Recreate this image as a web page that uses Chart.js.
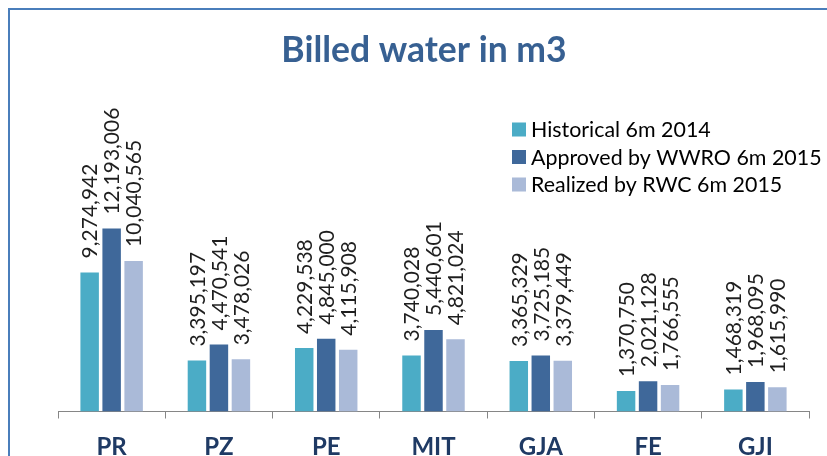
<!DOCTYPE html>
<html>
<head>
<meta charset="utf-8">
<script src="https://cdn.jsdelivr.net/npm/chart.js@4.4.1/dist/chart.umd.min.js"></script>
<style>
    html, body { margin: 0; padding: 0; background: #fff; overflow: hidden; }
    #wrap { position: relative; width: 827px; height: 456px; }
    #frame { position: absolute; left: 8px; top: 8px; width: 900px; height: 500px; border: 2px solid #4a7ebb; box-sizing: border-box; }
    canvas { position: absolute; left: 0; top: 0; }
</style>
</head>
<body>
<div id="wrap">
    <div id="frame"></div>
    <canvas id="billed-water-chart" width="827" height="456"></canvas>
</div>
<script>
// Данные графика
const chartTitle = 'Billed water in m3';
const categories = ['PR', 'PZ', 'PE', 'MIT', 'GJA', 'FE', 'GJI'];
const seriesNames = ['Historical 6m 2014', 'Approved by WWRO 6m 2015', 'Realized by RWC 6m 2015'];
const historical2014 = [9274942, 3395197, 4229538, 3740028, 3365329, 1370750, 1468319];
const approved2015 = [12193006, 4470541, 4845000, 5440601, 3725185, 2021128, 1968095];
const realized2015 = [10040565, 3478026, 4115908, 4821024, 3379449, 1766555, 1615990];

// Цвета серий
const seriesColors = ['#4bacc6', '#3f689a', '#aabad8'];

/**
 * Заголовок, легенда и подписи значений над столбцами
 */
const decorPlugin = {
    id: 'decor',
    afterDatasetsDraw(chart) {
        const ctx = chart.ctx;
        ctx.save();

        // Подписи значений (повернуты на 90 градусов)
        ctx.font = '21px Lato';
        ctx.fillStyle = '#1e1e1e';
        ctx.textAlign = 'left';
        ctx.textBaseline = 'middle';
        chart.data.datasets.forEach((ds, i) => {
            chart.getDatasetMeta(i).data.forEach((bar, j) => {
                ctx.save();
                ctx.translate(bar.x + 1, bar.y - 14);
                ctx.rotate(-Math.PI / 2);
                ctx.fillText(ds.data[j].toLocaleString('en-US'), 0, 0);
                ctx.restore();
            });
        });

        // Заголовок
        ctx.font = 'bold 35.5px Lato';
        ctx.fillStyle = '#376092';
        ctx.textAlign = 'center';
        ctx.textBaseline = 'alphabetic';
        ctx.fillText(chartTitle, 424, 62);

        // Легенда
        ctx.font = '21.4px Lato';
        ctx.textAlign = 'left';
        ctx.textBaseline = 'middle';
        const rows = [129.5, 157, 184.5];
        chart.data.datasets.forEach((ds, i) => {
            ctx.fillStyle = ds.backgroundColor;
            ctx.fillRect(512, rows[i] - 7, 14, 14);
            ctx.fillStyle = '#000';
            ctx.fillText(ds.label, 531, rows[i] + 1);
        });

        ctx.restore();
    }
};

const ctx = document.getElementById('billed-water-chart').getContext('2d');
const billedChart = new Chart(ctx, {
    type: 'bar',
    data: {
        labels: categories,
        datasets: [{
            label: seriesNames[0],
            data: historical2014,
            backgroundColor: seriesColors[0]
        }, {
            label: seriesNames[1],
            data: approved2015,
            backgroundColor: seriesColors[1]
        }, {
            label: seriesNames[2],
            data: realized2015,
            backgroundColor: seriesColors[2]
        }]
    },
    options: {
        responsive: false,
        animation: false,
        datasets: {
            bar: {
                categoryPercentage: 0.615,
                barPercentage: 0.84
            }
        },
        layout: {
            padding: { left: 58, right: 18, top: 111.5, bottom: 0 }
        },
        plugins: {
            legend: { display: false },
            title: { display: false },
            tooltip: { enabled: false }
        },
        scales: {
            y: {
                display: false,
                min: 0,
                max: 20000000
            },
            x: {
                afterFit: function(scale) {
                    scale.height = 44.5;
                },
                border: {
                    display: true,
                    color: '#868686',
                    width: 1
                },
                grid: {
                    drawOnChartArea: false,
                    drawTicks: true,
                    tickLength: 7,
                    color: '#868686'
                },
                ticks: {
                    padding: 14,
                    color: '#1f3a64',
                    font: { family: 'Lato', size: 24, weight: 'bold' }
                }
            }
        }
    },
    plugins: [decorPlugin]
});
</script>
</body>
</html>
